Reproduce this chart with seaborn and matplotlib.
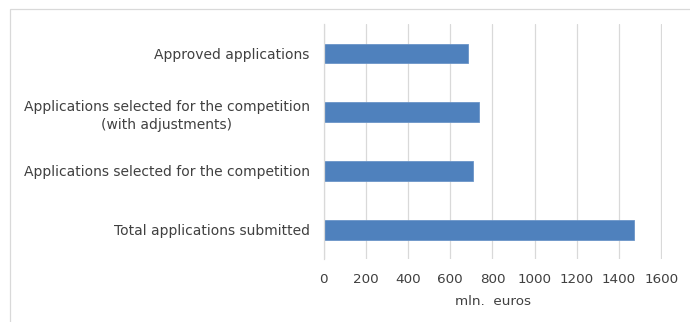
import matplotlib
matplotlib.use("Agg")
import matplotlib.pyplot as plt
import seaborn as sns
import pandas as pd
from matplotlib.patches import Rectangle

categories = [
    "Approved applications",
    "Applications selected for the competition\n(with adjustments)",
    "Applications selected for the competition",
    "Total applications submitted",
]
values = [682, 738, 707, 1473]
xticks = [0, 200, 400, 600, 800, 1000, 1200, 1400, 1600]

sns.set_theme(style="white")
plt.rcParams["font.family"] = ["DejaVu Sans"]

df = pd.DataFrame({"category": categories, "value": values})

fig = plt.figure(figsize=(6.9, 3.22), dpi=100)
ax = fig.add_axes([0.469, 0.196, 0.490, 0.729])

sns.barplot(data=df, y="category", x="value", orient="h", color="#4F81BD",
            width=0.34, saturation=1, edgecolor="#6B95C8", linewidth=0.6, ax=ax)

ax.set_xlim(0, 1602)
ax.set_xticks(xticks)
ax.set_xticklabels([str(t) for t in xticks], fontsize=9.7, color="#404040")
ax.tick_params(axis="y", labelsize=10, labelcolor="#404040", length=0, pad=10)
ax.tick_params(axis="x", length=0, pad=10)
for lbl in ax.get_yticklabels():
    lbl.set_horizontalalignment("right")
    lbl.set_multialignment("center")
    lbl.set_linespacing(1.35)
ax.grid(axis="x", color="#D9D9D9", linewidth=0.9)
ax.set_axisbelow(True)
for s in ["top", "right", "bottom"]:
    ax.spines[s].set_visible(False)
ax.spines["left"].set_color("#D9D9D9")
ax.spines["left"].set_linewidth(0.9)
ax.set_ylabel("")
ax.set_xlabel("mln.  euros", fontsize=9.7, color="#404040", labelpad=7)

fig.patches.append(Rectangle((10 / 690, -0.1), 1.2, 1 - 9 / 322 + 0.1,
                             transform=fig.transFigure, fill=False,
                             edgecolor="#D9D9D9", linewidth=0.9))

fig.savefig("out.png", dpi=100)
